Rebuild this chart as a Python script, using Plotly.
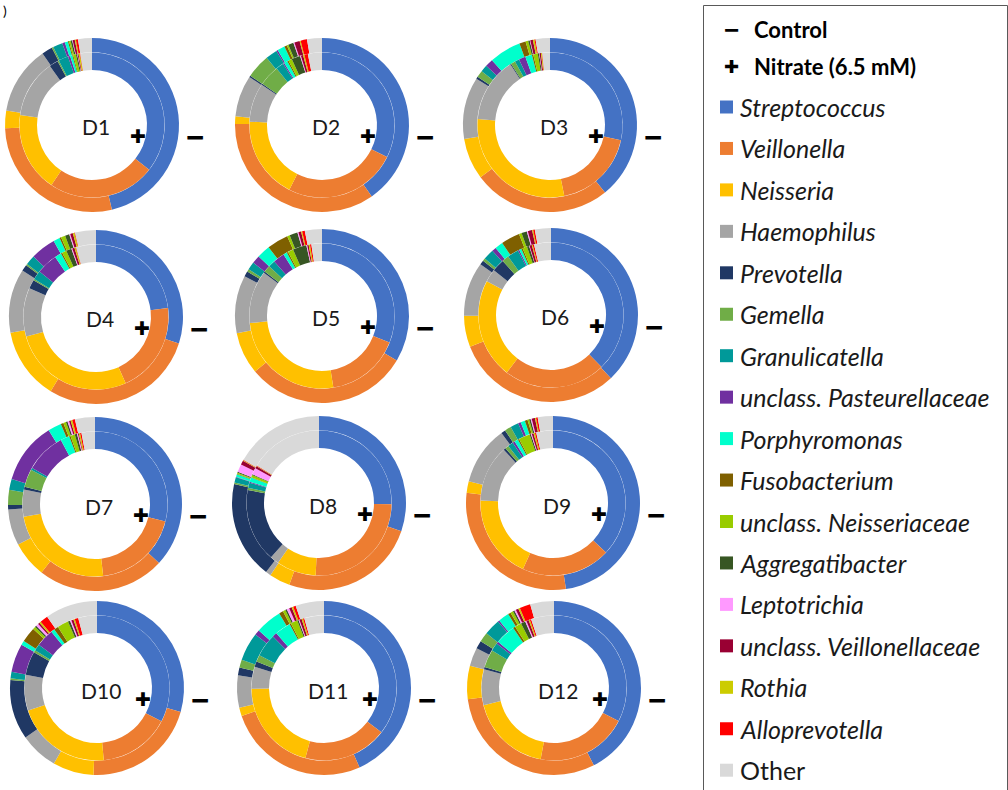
import plotly.graph_objects as go

# Genera shown in every ring, in plotting order (clockwise from 12 o'clock)
genera = [
    "Streptococcus", "Veillonella", "Neisseria", "Haemophilus", "Prevotella",
    "Gemella", "Granulicatella", "unclass. Pasteurellaceae", "Porphyromonas",
    "Fusobacterium", "unclass. Neisseriaceae", "Aggregatibacter", "Leptotrichia",
    "unclass. Veillonellaceae", "Rothia", "Alloprevotella", "Other",
]
colors = [
    "#4472C4", "#ED7D31", "#FFC000", "#A5A5A5", "#203864",
    "#70AD47", "#009999", "#7030A0", "#00FFCC",
    "#7F6000", "#99CC00", "#375623", "#FF99FF",
    "#990033", "#CCCC00", "#FF0000", "#D9D9D9",
]

donors = ["D1", "D2", "D3", "D4", "D5", "D6", "D7", "D8", "D9", "D10", "D11", "D12"]

# Relative abundance (%) per donor: control (outer ring) and nitrate 6.5 mM (inner ring)
control_D1 = [46.7, 28.3, 3.3, 12.8, 2.0, 0.3, 1.8, 0.5, 0.6, 0.2, 0.3, 0.3, 0.1, 0.4, 0.2, 0.4, 2.6]
nitrate_D1 = [35.7, 24.0, 17.8, 13.0, 2.0, 0.3, 2.2, 0.5, 0.5, 0.2, 0.6, 0.3, 0.1, 0.2, 0.3, 0.1, 2.6]
control_D2 = [40.8, 35.3, 1.4, 7.8, 0.3, 4.5, 2.2, 0.3, 1.4, 0.5, 0.3, 1.0, 0.2, 1.0, 0.2, 1.2, 2.8]
nitrate_D2 = [33.0, 25.7, 18.7, 8.8, 0.3, 4.7, 1.8, 0.3, 0.8, 0.3, 0.8, 2.0, 0.2, 0.5, 0.3, 0.8, 3.2]
control_D3 = [39.7, 26.0, 7.8, 11.7, 0.4, 1.3, 1.3, 1.5, 6.0, 1.2, 0.5, 0.3, 0.1, 0.5, 0.3, 0.2, 2.7]
nitrate_D3 = [28.3, 18.4, 29.4, 14.4, 0.2, 1.0, 1.0, 1.5, 1.5, 0.3, 1.0, 0.3, 0.1, 0.3, 0.2, 0.1, 1.7]
control_D4 = [30.0, 28.9, 13.4, 11.9, 1.2, 0.3, 1.8, 4.7, 1.2, 0.3, 0.8, 0.8, 0.2, 0.5, 0.3, 0.1, 3.9]
nitrate_D4 = [23.0, 20.2, 27.3, 10.8, 2.0, 0.3, 2.0, 4.7, 1.5, 0.3, 1.0, 1.2, 0.2, 0.5, 0.3, 0.1, 4.4]
control_D5 = [33.8, 30.7, 7.9, 10.8, 1.0, 0.5, 1.5, 1.5, 2.5, 4.0, 0.5, 1.5, 0.2, 0.5, 0.2, 0.5, 3.2]
nitrate_D5 = [30.3, 16.2, 25.4, 11.5, 0.3, 1.5, 1.5, 2.5, 0.8, 0.3, 1.2, 3.0, 0.2, 0.3, 0.3, 0.3, 2.3]
control_D6 = [38.0, 31.2, 5.8, 10.1, 0.8, 0.5, 2.0, 0.8, 1.5, 3.5, 0.5, 1.0, 0.2, 0.8, 0.2, 0.3, 3.0]
nitrate_D6 = [37.1, 22.3, 21.9, 2.8, 2.8, 1.5, 2.5, 0.3, 0.5, 0.3, 1.0, 0.5, 0.1, 0.5, 0.2, 0.3, 3.7]
control_D7 = [36.7, 23.6, 6.7, 6.7, 0.8, 2.8, 2.0, 11.4, 2.5, 0.5, 0.5, 0.3, 0.3, 0.3, 0.3, 0.5, 3.7]
nitrate_D7 = [28.9, 19.3, 24.0, 6.0, 0.6, 4.0, 0.5, 8.9, 2.0, 0.3, 1.0, 0.5, 0.2, 0.2, 0.3, 0.3, 3.0]
control_D8 = [31.1, 26.0, 4.0, 1.0, 18.6, 0.3, 1.0, 0.1, 0.5, 0.1, 0.2, 0.2, 1.5, 0.8, 0.1, 0.1, 17.2]
nitrate_D8 = [25.8, 26.0, 9.0, 2.0, 16.7, 0.5, 1.2, 0.2, 1.0, 0.1, 0.5, 0.2, 1.5, 0.5, 0.1, 0.1, 16.7]
control_D9 = [47.2, 29.0, 2.1, 10.8, 0.8, 1.2, 1.5, 0.5, 0.8, 0.5, 0.3, 0.3, 0.2, 0.6, 0.2, 0.3, 2.8]
nitrate_D9 = [36.7, 19.7, 18.6, 12.5, 0.5, 0.8, 1.2, 0.5, 0.8, 0.3, 2.5, 0.3, 0.2, 0.4, 0.3, 0.3, 3.7]
control_D10 = [29.4, 21.2, 7.6, 7.1, 11.1, 0.3, 1.2, 5.3, 0.8, 2.8, 0.5, 0.3, 0.5, 0.3, 0.3, 1.5, 9.7]
nitrate_D10 = [32.8, 16.0, 21.6, 8.0, 5.3, 0.5, 1.5, 4.0, 0.8, 1.0, 2.5, 0.5, 0.3, 0.5, 0.3, 0.8, 4.2]
control_D11 = [44.3, 27.1, 1.6, 6.1, 1.5, 1.5, 5.4, 1.0, 5.0, 0.8, 0.5, 0.3, 0.5, 0.5, 0.3, 0.5, 5.4]
nitrate_D11 = [34.8, 18.3, 20.3, 4.8, 1.2, 1.5, 5.0, 1.0, 3.5, 0.3, 1.5, 0.3, 0.2, 0.5, 0.3, 0.3, 4.3]
control_D12 = [42.3, 30.4, 6.2, 3.4, 1.5, 1.8, 3.0, 0.3, 2.0, 0.5, 0.5, 0.3, 0.3, 0.5, 0.3, 2.0, 4.4]
nitrate_D12 = [32.5, 20.4, 18.2, 8.0, 0.5, 4.0, 1.8, 0.5, 4.5, 0.5, 1.5, 1.0, 0.3, 0.5, 0.3, 0.3, 5.1]

control = [control_D1, control_D2, control_D3, control_D4, control_D5, control_D6,
           control_D7, control_D8, control_D9, control_D10, control_D11, control_D12]
nitrate = [nitrate_D1, nitrate_D2, nitrate_D3, nitrate_D4, nitrate_D5, nitrate_D6,
           nitrate_D7, nitrate_D8, nitrate_D9, nitrate_D10, nitrate_D11, nitrate_D12]

# ---- layout (pixels) ----
W, H = 1008, 790
centers = [
    (92, 125), (322, 125), (550, 125),
    (96, 317), (322, 316), (551, 315),
    (95, 504), (319, 503), (553, 503),
    (97, 688), (324, 688), (554, 688),
]
R_OUT, R_MID, R_IN = 87.0, 72.5, 55.0
FONT = "Lato, Calibri, Carlito, sans-serif"
SIGN_FONT = "DejaVu Sans"


def px(x):
    return x / W


def py(y):
    return 1 - y / H


def domain(cx, cy, r):
    return dict(x=[px(cx - r), px(cx + r)], y=[py(cy + r), py(cy - r)])


def plus_sign(x, y, size):
    return dict(x=px(x), y=py(y), text="\u271A", showarrow=False,
                xanchor="center", yanchor="middle",
                font=dict(family=SIGN_FONT, size=size, color="black"))


def minus_sign(x, y, size):
    return dict(x=px(x), y=py(y), text="<b>\u2212</b>", showarrow=False,
                xanchor="center", yanchor="middle",
                font=dict(family="Liberation Sans", size=size, color="black"))


fig = go.Figure()
annotations = []
shapes = []

for name, (cx, cy), ctrl, nit in zip(donors, centers, control, nitrate):
    fig.add_trace(go.Pie(
        values=ctrl, labels=genera, name=name + " control",
        marker=dict(colors=colors, line=dict(width=0)),
        hole=(R_MID + 0.2) / R_OUT, domain=domain(cx, cy, R_OUT),
        sort=False, direction="clockwise", rotation=0,
        textinfo="none", hoverinfo="label+percent+name", showlegend=False,
    ))
    fig.add_trace(go.Pie(
        values=nit, labels=genera, name=name + " nitrate",
        marker=dict(colors=colors, line=dict(width=0)),
        hole=R_IN / R_MID, domain=domain(cx, cy, R_MID),
        sort=False, direction="clockwise", rotation=0,
        textinfo="none", hoverinfo="label+percent+name", showlegend=False,
    ))
    annotations.append(dict(
        x=px(cx + 4), y=py(cy + 2), text=name, showarrow=False,
        xanchor="center", yanchor="middle",
        font=dict(family=FONT, size=21, color="#1a1a1a"),
    ))
    annotations.append(plus_sign(cx + 46, cy + 11, 19))
    annotations.append(minus_sign(cx + 103, cy + 12, 31))

# ---- legend panel ----
shapes.append(dict(
    type="rect", xref="paper", yref="paper",
    x0=px(703.5), x1=px(1007.5), y0=py(800), y1=py(5.5),
    line=dict(color="#595959", width=1), fillcolor="rgba(0,0,0,0)",
))

annotations.append(minus_sign(731, 30, 26))
annotations.append(dict(
    x=px(752), y=py(30), text="<b>Control</b>", showarrow=False,
    xanchor="left", yanchor="middle",
    font=dict(family=FONT, size=22, color="black"),
))
annotations.append(plus_sign(731, 66, 18))
annotations.append(dict(
    x=px(752), y=py(66), text="<b>Nitrate (6.5 mM)</b>", showarrow=False,
    xanchor="left", yanchor="middle",
    font=dict(family=FONT, size=22, color="black"),
))

y0_leg, step_leg = 107.0, 41.45
for i, (g, c) in enumerate(zip(genera, colors)):
    yc = y0_leg + i * step_leg
    shapes.append(dict(
        type="rect", xref="paper", yref="paper",
        x0=px(720), x1=px(733), y0=py(yc + 6.5), y1=py(yc - 6.5),
        line=dict(width=0), fillcolor=c,
    ))
    label = g if g == "Other" else "<i>" + g + "</i>"
    annotations.append(dict(
        x=px(738), y=py(yc), text=label, showarrow=False,
        xanchor="left", yanchor="middle",
        font=dict(family=FONT, size=25, color="#1a1a1a"),
    ))

# panel tag at the corner
annotations.append(dict(
    x=px(1), y=py(0), text=")", showarrow=False,
    xanchor="left", yanchor="top",
    font=dict(family=FONT, size=14, color="black"),
))

fig.update_layout(
    width=W, height=H,
    margin=dict(l=0, r=0, t=0, b=0),
    paper_bgcolor="white", plot_bgcolor="white",
    showlegend=False,
    annotations=annotations, shapes=shapes,
)

fig.write_html("out.html")
